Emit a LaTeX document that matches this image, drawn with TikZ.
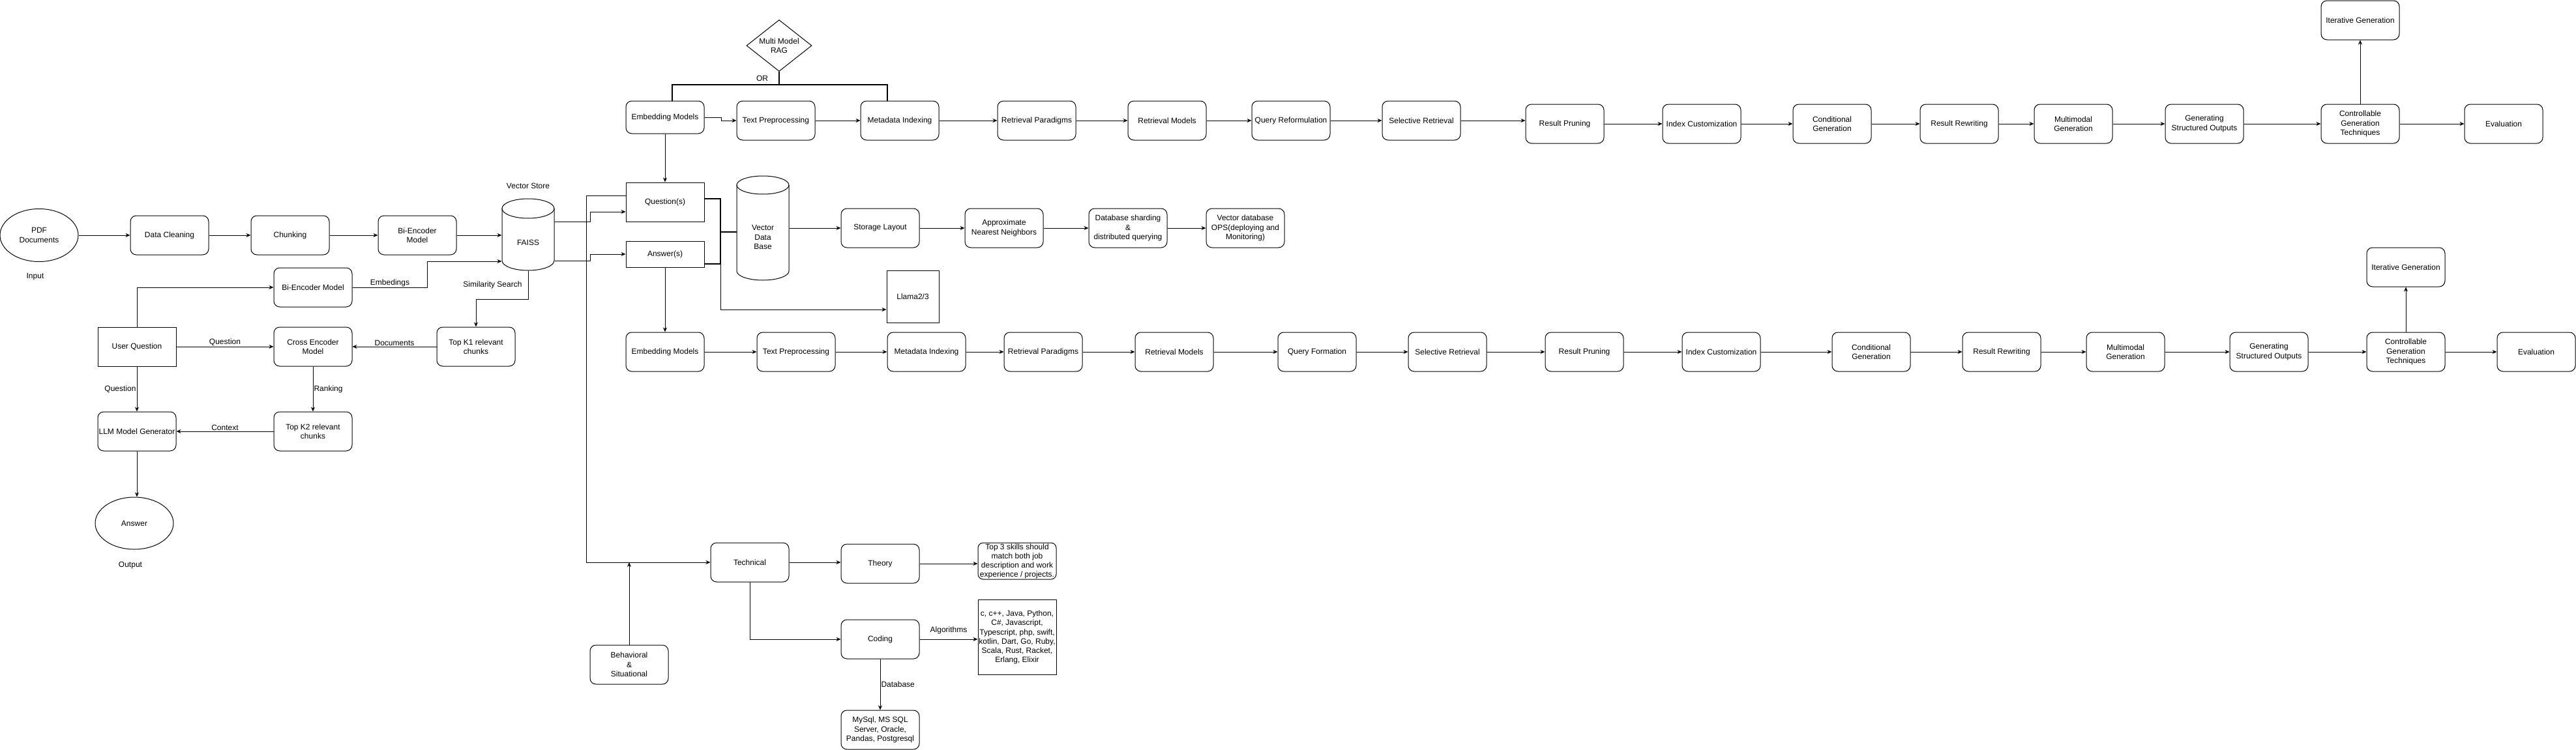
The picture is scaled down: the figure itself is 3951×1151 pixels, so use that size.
\documentclass[tikz,border=0pt]{standalone}
\usepackage{fontspec}
\setmainfont{Liberation Sans}
\usetikzlibrary{shapes.geometric, arrows.meta}

\begin{document}
\begin{tikzpicture}[x=1pt, y=-1pt, line width=1pt,
        every node/.style={font=\fontsize{12}{14.5}\selectfont, align=center, inner sep=1pt},
        box/.style={draw, rectangle, rounded corners=9pt, minimum width=120pt, minimum height=60pt},
        sqbox/.style={draw, rectangle, minimum width=120pt, minimum height=60pt},
        arr/.style={-{Stealth[length=7pt, width=6pt]}},
        thk/.style={line width=2pt}]
        \useasboundingbox (0,0) rectangle (3951,1151);

        % Nodes: question answering pipeline
        \node[ellipse, draw, inner sep=0pt, minimum width=120pt, minimum height=81pt] (pdf) at (60,361) {PDF\\Documents};
        \node (inlab) at (54,425) {Input};
        \node[box] (clean) at (260,361) {Data Cleaning};
        \node[box] (chunk) at (445,361) {Chunking};
        \node[box] (bienc) at (640,361) {Bi-Encoder\\Model};
        \node[minimum width=80pt, minimum height=86pt] (faiss) at (810,372) {FAISS};
        \node (vstore) at (810,285) {Vector Store};
        \node[box] (qenc) at (480,441) {Bi-Encoder Model};
        \node[sqbox] (user) at (210,532) {User Question};
        \node[box] (cross) at (480,532) {Cross Encoder\\Model};
        \node[box] (topk1) at (730,532) {Top K1 relevant\\chunks};
        \node[box] (llm) at (210,662) {LLM Model Generator};
        \node[box] (topk2) at (480,662) {Top K2 relevant\\chunks};
        \node[ellipse, draw, inner sep=0pt, minimum width=120pt, minimum height=80pt] (answer) at (206,803) {Answer};
        \node (outlab) at (200,868) {Output};

        % cylinders
        \draw (770,320) -- (770,400) arc[start angle=180, end angle=0, x radius=40, y radius=15] -- (850,320);
        \draw (810,320) ellipse[x radius=40, y radius=15];
        \draw (1130,284) -- (1130,416) arc[start angle=180, end angle=0, x radius=40, y radius=14] -- (1210,284);
        \draw (1170,284) ellipse[x radius=40, y radius=14];

        % Nodes: multi model RAG
        \node[diamond, draw, aspect=1.27, inner sep=0pt, minimum width=100pt, minimum height=79pt] (rag) at (1195,70) {Multi Model\\RAG};
        \node[box, minimum height=50pt] (embA) at (1020,180) {Embedding Models};
        \node[box] (textA) at (1190,185) {Text Preprocessing};
        \node[box] (metaA) at (1380,185) {Metadata Indexing};
        \node[box] (paraA) at (1590,185) {Retrieval Paradigms};
        \node[box] (modA) at (1790,185) {Retrieval Models};
        \node[box] (reformA) at (1980,185) {Query Reformulation};
        \node[box] (selA) at (2180,185) {Selective Retrieval};
        \node[box] (pruneA) at (2400,190) {Result Pruning};
        \node[box] (indexA) at (2610,190) {Index Customization};
        \node[box] (condA) at (2810,190) {Conditional\\Generation};
        \node[box] (rewriteA) at (3005,190) {Result Rewriting};
        \node[box] (multiA) at (3180,190) {Multimodal\\Generation};
        \node[box] (structA) at (3381,190) {Generating\\Structured Outputs};
        \node[box] (ctrlA) at (3620,190) {Controllable\\Generation\\Techniques};
        \node[box] (evalA) at (3840,190) {Evaluation};
        \node[box] (iterA) at (3620,31) {Iterative Generation};

        % Nodes: vector data base
        \node[sqbox] (ques) at (1020,310) {Question(s)};
        \node[sqbox, minimum height=40pt] (ans) at (1020,390) {Answer(s)};
        \node[minimum width=80pt, minimum height=132pt] (vdb) at (1170,364) {Vector\\Data\\Base};
        \node[box] (layout) at (1350,350) {Storage Layout};
        \node[box] (ann) at (1540,350) {Approximate\\Nearest Neighbors};
        \node[box] (shard) at (1730,350) {Database sharding\\\&\\distributed querying};
        \node[box] (ops) at (1910,350) {Vector database\\OPS(deploying and\\Monitoring)};
        \node[sqbox, minimum width=80pt, minimum height=80pt] (llama) at (1400,455) {Llama2/3};

        % Nodes: second row
        \node[box] (embB) at (1020,540) {Embedding Models};
        \node[box] (textB) at (1221,540) {Text Preprocessing};
        \node[box] (metaB) at (1421,540) {Metadata Indexing};
        \node[box] (paraB) at (1600,540) {Retrieval Paradigms};
        \node[box] (modB) at (1801,540) {Retrieval Models};
        \node[box] (formB) at (2020,540) {Query Formation};
        \node[box] (selB) at (2220,540) {Selective Retrieval};
        \node[box] (pruneB) at (2430,540) {Result Pruning};
        \node[box] (indexB) at (2640,540) {Index Customization};
        \node[box] (condB) at (2870,540) {Conditional\\Generation};
        \node[box] (rewriteB) at (3070,540) {Result Rewriting};
        \node[box] (multiB) at (3260,540) {Multimodal\\Generation};
        \node[box] (structB) at (3480,540) {Generating\\Structured Outputs};
        \node[box] (ctrlB) at (3690,540) {Controllable\\Generation\\Techniques};
        \node[box] (evalB) at (3890,540) {Evaluation};
        \node[box] (iterB) at (3690,410) {Iterative Generation};

        % Nodes: interview
        \node[box] (tech) at (1150,863) {Technical};
        \node[box] (theory) at (1350,865) {Theory};
        \node[box, rounded corners=8pt, inner sep=0pt, minimum height=56pt, font=\fontsize{12}{14}\selectfont] (top3) at (1560,861) {Top 3 skills should\\match both job\\description and work\\experience / projects.};
        \node[box] (coding) at (1350,981) {Coding};
        \node[sqbox, inner sep=0pt, minimum height=115pt, font=\fontsize{12}{14.2}\selectfont] (langs) at (1560,978) {c, c++, Java, Python,\\C\#, Javascript,\\Typescript, php, swift,\\kotlin, Dart, Go, Ruby,\\Scala, Rust, Racket,\\Erlang, Elixir};
        \node[box] (dbs) at (1350,1120) {MySql, MS SQL\\Server, Oracle,\\Pandas, Postgresql};
        \node[box] (behav) at (965,1020) {Behavioral\\\&\\Situational};

        % Arrows: question answering pipeline
        \draw[arr] (pdf) -- (clean);
        \draw[arr] (clean) -- (chunk);
        \draw[arr] (chunk) -- (bienc);
        \draw[arr] (bienc.east) -- (bienc.east -| faiss.west);
        \draw[arr] (qenc.east) -- ++(115,0) node[midway, above] {Embedings} |- ([yshift=-29pt]faiss.west);
        \draw[arr] (faiss.south) -- ++(0,44) node[midway, left=8pt] {Similarity Search} -| (topk1.north);
        \draw[arr] (user.north) |- (qenc.west);
        \draw[arr] (user) -- (cross) node[midway, above] {Question};
        \draw[arr] (topk1) -- (cross) node[midway, above] {Documents};
        \draw[arr] (user) -- (llm) node[midway, left] {Question};
        \draw[arr] (cross) -- (topk2) node[midway, right] {Ranking};
        \draw[arr] (topk2) -- (llm) node[midway, above] {Context};
        \draw[arr] (llm.south) -- (llm.south |- answer.north);

        % Arrows: multi model RAG
        \coordinate (orj) at (1195,130);
        \draw[thk] (rag.south) -- (orj) node[midway, left=15pt] {OR};
        \draw[thk] (orj) -| ([xshift=11pt]embA.north);
        \draw[thk] (orj) -| ([xshift=-19pt]metaA.north);
        \draw[arr] (embA.east) -- ++(26,0) |- (textA.west);
        \draw[arr] (textA) -- (metaA);
        \draw[arr] (metaA) -- (paraA);
        \draw[arr] (paraA) -- (modA);
        \draw[arr] (modA) -- (reformA);
        \draw[arr] (reformA) -- (selA);
        \draw[arr] (selA.east) -- (selA.east -| pruneA.west);
        \draw[arr] (pruneA) -- (indexA);
        \draw[arr] (indexA) -- (condA);
        \draw[arr] (condA) -- (rewriteA);
        \draw[arr] (rewriteA) -- (multiA);
        \draw[arr] (multiA) -- (structA);
        \draw[arr] (structA) -- (ctrlA);
        \draw[arr] (ctrlA) -- (evalA);
        \draw[arr] (ctrlA) -- (iterA);
        \draw[arr] (embA) -- (ques);

        % Arrows: vector data base
        \draw[arr] ([yshift=32pt]faiss.east) -- ++(55,0) |- ([yshift=-15pt]ques.west);
        \draw[arr] ([yshift=-28pt]faiss.east) -- ++(55,0) |- (ans.west);
        \coordinate (qa) at (1105,356);
        \draw[thk] ([yshift=5pt]ques.east) -| (qa) -- (qa -| vdb.west);
        \draw[thk] ([yshift=-15pt]ans.east) -| (qa);
        \draw[arr] ([yshift=-15pt]ans.east) -- ++(25,0) |- ([yshift=-20pt]llama.west);
        \draw[arr] (vdb.east |- layout.west) -- (layout.west);
        \draw[arr] (layout) -- (ann);
        \draw[arr] (ann) -- (shard);
        \draw[arr] (shard) -- (ops);
        \draw[arr] (ans) -- (embB);

        % Arrows: second row
        \draw[arr] (embB) -- (textB);
        \draw[arr] (textB) -- (metaB);
        \draw[arr] (metaB) -- (paraB);
        \draw[arr] (paraB) -- (modB);
        \draw[arr] (modB) -- (formB);
        \draw[arr] (formB) -- (selB);
        \draw[arr] (selB) -- (pruneB);
        \draw[arr] (pruneB) -- (indexB);
        \draw[arr] (indexB) -- (condB);
        \draw[arr] (condB) -- (rewriteB);
        \draw[arr] (rewriteB) -- (multiB);
        \draw[arr] (multiB) -- (structB);
        \draw[arr] (structB) -- (ctrlB);
        \draw[arr] (ctrlB) -- (evalB);
        \draw[arr] (ctrlB) -- (iterB);

        % Arrows: interview
        \draw[arr] ([yshift=10pt]ques.west) -- ++(-60,0) |- (tech.west);
        \draw[arr] (behav.north) -- (behav.north |- tech.west);
        \draw[arr] (tech.east) -- (tech.east -| theory.west);
        \draw[arr] (theory.east) -- (theory.east -| top3.west);
        \draw[arr] (tech.south) |- (coding.west);
        \draw[arr] (coding.east) -- (coding.east -| langs.west) node[midway, above=7pt] {Algorithms};
        \draw[arr] (coding) -- (dbs) node[midway, right] {Database};
\end{tikzpicture}
\end{document}
